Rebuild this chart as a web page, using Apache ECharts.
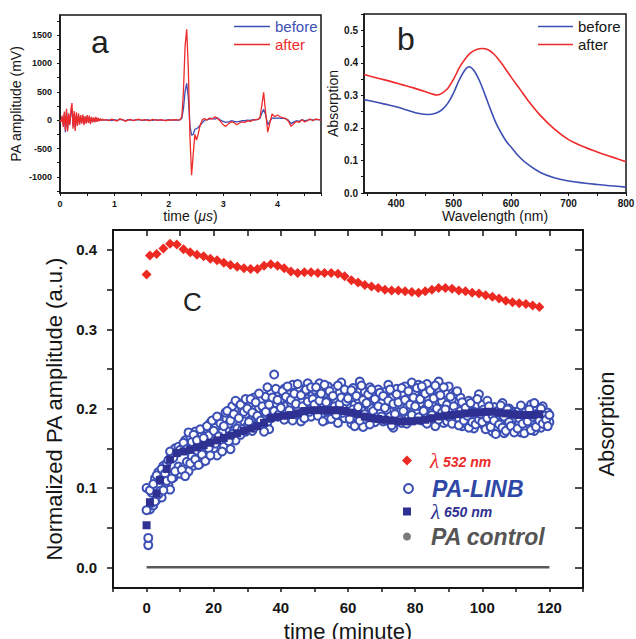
<!DOCTYPE html>
<html><head><meta charset="utf-8">
<script src="https://cdn.jsdelivr.net/npm/echarts/dist/echarts.min.js"></script>
<style>html,body{margin:0;padding:0;background:#fff}#wrap{position:relative;width:636px;height:639px}#top,#labels,#lines,#marks{position:absolute;left:0;top:0;width:636px;height:639px}</style>
</head><body><div id="wrap"><div id="top"></div><div id="labels"></div><div id="lines"></div><div id="marks"></div></div>
<script>
// ---------- Panel a: PA signal ----------
const tA = [0,0.02,0.04,0.06,0.08,0.1,0.12,0.14,0.16,0.18,0.2,0.22,0.24,0.26,0.28,0.3,0.32,0.34,0.36,0.38,0.4,0.42,0.44,0.46,0.48,0.5,0.52,0.54,0.56,0.58,0.6,0.62,0.64,0.66,0.68,0.7,0.72,0.74,0.76,0.78,0.8,
0.85,0.9,0.95,1,1.05,1.1,1.15,1.2,1.25,1.3,1.35,1.4,1.45,1.5,1.55,1.6,1.65,1.7,1.75,1.8,1.85,1.9,1.95,2,2.05,2.1,2.15,2.2,
2.24,2.27,2.3,2.33,2.36,2.39,2.42,2.45,2.48,2.51,2.54,2.58,2.62,2.66,2.7,
2.75,2.8,2.85,2.9,2.95,3,3.05,3.1,3.15,3.2,3.25,3.3,3.35,3.4,3.45,3.5,3.55,3.6,3.65,
3.68,3.71,3.745,3.78,3.82,3.86,3.9,3.95,4,4.05,4.1,4.15,4.2,4.25,4.3,4.35,4.4,4.45,4.5,4.55,4.6,4.65,4.7,4.75,4.8];
const beforeA = [0,-20,50,-90,110,-210,150,-140,90,-60,120,200,-110,110,-130,100,-70,80,-60,60,-40,70,-60,50,-40,60,-30,60,-50,40,-30,30,-30,40,-20,30,-10,20,-5,10,0,
0,5,-10,10,-5,15,5,-10,10,0,-5,10,5,0,-5,10,0,-5,10,0,5,-5,0,10,0,5,0,5,
30,200,500,650,400,-100,-265,-250,-160,-150,-130,-90,-40,0,10,
20,30,20,40,0,-20,-40,-30,-10,-20,-30,-20,-10,-10,0,-5,10,5,15,
40,120,190,100,-80,-20,40,30,40,30,35,25,0,-60,-30,-10,-20,10,-10,0,15,0,15,10,5];
const afterA = [0,-30,80,-120,150,-180,200,-200,120,-90,180,300,-150,160,-190,140,-100,120,-80,90,-60,100,-90,70,-60,90,-50,80,-70,60,-40,50,-40,60,-30,40,-20,30,-10,20,0,
10,-10,20,0,-15,25,10,-20,0,15,-10,5,20,-5,10,0,-10,15,5,-5,10,0,-10,5,0,10,5,0,
60,500,1300,1600,900,-300,-970,-600,-250,-350,-250,-80,10,30,0,
40,20,60,30,-20,-80,-110,-60,-30,-40,-80,-50,-30,-40,-10,-20,0,10,20,
60,250,490,150,-210,-50,110,60,90,60,40,30,-20,-110,-60,-20,-40,10,-30,-10,20,-10,20,10,0];
const aYLabels = [-1000,-500,0,500,1000,1500];
const aYTicks = [-1250,-1000,-750,-500,-250,0,250,500,750,1000,1250,1500,1750];

// ---------- Panel b: absorption spectra ----------
const wlBefore = [344,360,380,400,420,440,455,470,480,490,500,510,520,527,535,545,555,565,575,590,600,615,630,650,675,700,750,800];
const absBefore = [.287,.281,.273,.265,.254,.244,.241,.246,.256,.276,.308,.348,.379,.388,.377,.345,.300,.253,.210,.163,.141,.110,.087,.064,.047,.037,.026,.018];
const wlAfter = [344,370,390,410,430,450,465,472,480,490,500,510,520,530,540,550,560,570,580,590,600,615,630,650,675,700,725,750,775,800];
const absAfter = [.364,.352,.343,.333,.323,.312,.303,.301,.307,.322,.350,.385,.412,.431,.441,.444,.440,.427,.406,.382,.356,.320,.283,.240,.197,.164,.143,.126,.111,.096];
const bXLabels = [400,500,600,700,800];
const bXTicks = [350,400,450,500,550,600,650,700,750,800];

// ---------- Panel c: normalized PA amplitude vs time ----------
const lambda532 = [[0,.369],[1,.393],[3,.395],[5,.402],[7,.408],[9,.407],[11,.401],[13,.397],[15,.394],[17,.392],[19,.389],[21,.387],[23,.384],[25,.381],[27,.379],[29,.377],[31,.376],[33,.376],[35,.380],[37,.382],[39,.380],[41,.377],[43,.373],[45,.371],[47,.372],[49,.372],[51,.371],[53,.371],[55,.371],[57,.370],[59,.367],[61,.362],[63,.359],[65,.356],[67,.354],[69,.352],[71,.350],[73,.349],[75,.349],[77,.348],[79,.347],[81,.346],[83,.348],[85,.350],[87,.352],[89,.352],[91,.351],[93,.349],[95,.348],[97,.346],[99,.345],[101,.343],[103,.341],[105,.339],[107,.336],[109,.334],[111,.333],[113,.332],[115,.330],[117,.328]];
const lambda650 = [[0,.053],[1,.082],[3,.093],[4,.110],[6,.124],[7,.136],[9,.144],[11,.146],[13,.148],[15,.151],[17,.154],[19,.157],[21,.160],[23,.163],[25,.166],[27,.169],[29,.172],[31,.175],[33,.178],[35,.182],[37,.188],[39,.190],[41,.191],[43,.192],[45,.194],[47,.197],[49,.198],[51,.198],[53,.198],[55,.198],[57,.198],[59,.197],[61,.195],[63,.193],[65,.190],[67,.188],[69,.187],[71,.186],[73,.185],[75,.184],[77,.184],[79,.184],[81,.185],[83,.186],[85,.188],[87,.190],[89,.191],[91,.192],[93,.193],[95,.194],[97,.195],[99,.195],[101,.196],[103,.196],[105,.195],[107,.194],[109,.193],[111,.192],[113,.192],[115,.192],[117,.193]];
const tL = [0,0.5,1,1.5,2,2.5,3,3.5,4,4.5,5,5.5,6,6.5,7,7.5,8,8.5,9,9.5,
10,10.5,11,11.5,12,12.5,13,13.5,14,14.5,15,15.5,16,16.5,17,17.5,18,18.5,19,19.5,
20,20.5,21,21.5,22,22.5,23,23.5,24,24.5,25,25.5,26,26.5,27,27.5,28,28.5,29,29.5,
30,30.5,31,31.5,32,32.5,33,33.5,34,34.5,35,35.5,36,36.5,37,37.5,38,38.5,39,39.5,
40,40.5,41,41.5,42,42.5,43,43.5,44,44.5,45,45.5,46,46.5,47,47.5,48,48.5,49,49.5,
50,50.5,51,51.5,52,52.5,53,53.5,54,54.5,55,55.5,56,56.5,57,57.5,58,58.5,59,59.5,
60,60.5,61,61.5,62,62.5,63,63.5,64,64.5,65,65.5,66,66.5,67,67.5,68,68.5,69,69.5,
70,70.5,71,71.5,72,72.5,73,73.5,74,74.5,75,75.5,76,76.5,77,77.5,78,78.5,79,79.5,
80,80.5,81,81.5,82,82.5,83,83.5,84,84.5,85,85.5,86,86.5,87,87.5,88,88.5,89,89.5,
90,90.5,91,91.5,92,92.5,93,93.5,94,94.5,95,95.5,96,96.5,97,97.5,98,98.5,99,99.5,
100,100.5,101,101.5,102,102.5,103,103.5,104,104.5,105,105.5,106,106.5,107,107.5,108,108.5,109,109.5,
110,110.5,111,111.5,112,112.5,113,113.5,114,114.5,115,115.5,116,116.5,117,117.5,118,118.5,119,119.5,
120];
const linbA = [.100,.028,.073,.094,.078,.112,.085,.120,.096,.088,.128,.100,.131,.104,.098,.142,.113,.150,.118,.127,
.118,.152,.126,.160,.133,.121,.165,.140,.128,.171,.137,.162,.131,.168,.144,.175,.139,.166,.182,.147,
.150,.176,.141,.188,.158,.170,.152,.195,.163,.181,.149,.203,.172,.160,.208,.178,.167,.199,.184,.171,
.178,.205,.186,.172,.214,.192,.180,.201,.210,.188,.196,.215,.183,.174,.222,.199,.243,.207,.190,.218,
.212,.196,.225,.203,.188,.218,.207,.230,.192,.214,.199,.226,.184,.210,.221,.195,.232,.205,.190,.217,
.224,.198,.213,.232,.190,.207,.219,.186,.228,.203,.215,.194,.225,.209,.182,.220,.233,.201,.188,.212,
.196,.218,.181,.226,.205,.190,.212,.234,.198,.177,.221,.206,.189,.227,.200,.215,.183,.209,.224,.194,
.207,.184,.221,.198,.230,.190,.213,.176,.204,.225,.195,.212,.182,.219,.228,.201,.188,.216,.233,.199,
.221,.194,.230,.207,.185,.217,.199,.231,.212,.188,.224,.203,.178,.215,.234,.196,.209,.182,.220,.205,
.228,.196,.212,.184,.219,.201,.188,.214,.178,.206,.193,.180,.210,.187,.199,.175,.204,.190,.218,.182,
.205,.179,.193,.210,.184,.198,.171,.202,.188,.176,.195,.182,.207,.169,.191,.180,.200,.174,.186,.196,
.178,.196,.183,.170,.201,.187,.174,.193,.180,.205,.185,.172,.198,.182,.190,.176,.203,.188,.179,.195,
.183];
const linbB = [.072,.037,.097,.081,.105,.083,.116,.092,.110,.124,.097,.118,.109,.135,.146,.112,.138,.121,.145,.152,
.148,.123,.157,.115,.149,.170,.131,.158,.167,.136,.160,.129,.174,.142,.163,.134,.178,.150,.141,.185,
.172,.156,.190,.165,.181,.146,.178,.162,.197,.159,.185,.168,.193,.210,.175,.188,.205,.174,.196,.212,
.200,.183,.212,.195,.176,.208,.191,.219,.185,.203,.171,.196,.227,.205,.188,.214,.197,.225,.211,.193,
.201,.222,.186,.215,.228,.198,.211,.185,.219,.206,.231,.193,.217,.203,.188,.224,.209,.196,.227,.212,
.205,.227,.191,.210,.219,.184,.230,.208,.197,.222,.187,.216,.203,.192,.229,.206,.214,.195,.224,.209,
.213,.187,.223,.199,.178,.216,.202,.185,.229,.211,.193,.207,.218,.180,.224,.197,.212,.189,.203,.220,
.190,.216,.201,.185,.210,.224,.179,.206,.193,.218,.208,.186,.226,.197,.211,.181,.222,.205,.192,.214,
.203,.226,.189,.212,.228,.197,.219,.181,.206,.223,.192,.213,.229,.200,.186,.217,.195,.227,.199,.184,
.190,.215,.181,.203,.194,.222,.179,.197,.208,.185,.201,.191,.176,.207,.183,.196,.180,.212,.186,.193,
.183,.199,.174,.188,.203,.177,.192,.185,.168,.197,.180,.204,.176,.190,.172,.199,.183,.178,.194,.170,
.192,.175,.188,.204,.181,.169,.196,.184,.199,.173,.190,.207,.177,.194,.185,.200,.181,.191,.186,.178,
.192];
const controlT = [0,120];
const controlV = [0,0];
const cYLabels = [0,0.1,0.2,0.3,0.4];
const cYTicks = [0,0.05,0.1,0.15,0.2,0.25,0.3,0.35,0.4];

// ---------- build ----------
const zip = (xs, ys) => xs.slice(0, Math.min(xs.length, ys.length)).map((x, i) => [x, ys[i]]);
const FONT = 'Liberation Sans';
const INK = '#151515';
const RED = '#ee2b2b';
const BLUE = '#3d4fb3';
const LINE_ICON = 'path://M0,0H36V1.6H0Z';
const isMult = (v, s) => Math.abs(v / s - Math.round(v / s)) < 1e-6;
const GRIDX = {outerBoundsMode: 'none', containLabel: false, show: true, backgroundColor: 'transparent'};
const C_GRID = {left: 113, top: 230, width: 470, height: 358};
const C_X = {min: -10, max: 130};
const C_Y = {min: -0.0261, max: 0.4252};

// Chart 1: panels a and b
const chartAB = echarts.init(document.getElementById('top'), null, {renderer: 'svg'});
chartAB.setOption({
  animation: false,
  backgroundColor: '#fff',
  textStyle: {fontFamily: FONT},
  grid: [
    Object.assign({left: 60, top: 15, width: 261, height: 178, borderColor: INK, borderWidth: 1.5}, GRIDX),
    Object.assign({left: 364, top: 14, width: 262, height: 179, borderColor: INK, borderWidth: 1.5}, GRIDX)
  ],
  xAxis: [
    {gridIndex: 0, type: 'value', min: 0, max: 4.8, interval: 0.5,
     name: '{n|time (}{i|μs}{n|)}', nameLocation: 'middle', nameGap: 14,
     nameTextStyle: {rich: {n: {fontSize: 14, color: INK, fontFamily: FONT}, i: {fontSize: 14, color: INK, fontStyle: 'italic', fontFamily: FONT}}},
     axisLine: {onZero: false, lineStyle: {color: INK, width: 1.5}}, axisTick: {inside: false, length: 3, lineStyle: {color: INK}},
     axisLabel: {fontSize: 9, fontWeight: 'bold', color: INK, margin: 6, formatter: v => isMult(v, 1) && v < 4.7 ? String(v) : ''},
     splitLine: {show: false}},
    {gridIndex: 1, type: 'value', min: 344, max: 800,
     name: 'Wavelength (nm)', nameLocation: 'middle', nameGap: 14,
     nameTextStyle: {fontSize: 14, color: INK},
     axisLine: {onZero: false, lineStyle: {color: INK, width: 1.5}}, axisTick: {length: 3, customValues: bXTicks, lineStyle: {color: INK}},
     axisLabel: {fontSize: 10, fontWeight: 'bold', color: INK, margin: 5, customValues: bXLabels, formatter: v => String(v)},
     splitLine: {show: false}}
  ],
  yAxis: [
    {gridIndex: 0, type: 'value', min: -1283, max: 1853,
     name: 'PA amplitude (mV)', nameLocation: 'middle', nameGap: 37,
     nameTextStyle: {fontSize: 14, color: INK},
     axisLine: {show: true, onZero: false, lineStyle: {color: INK, width: 1.5}}, axisTick: {show: true, length: 3, customValues: aYTicks, lineStyle: {color: INK}},
     axisLabel: {fontSize: 9, fontWeight: 'bold', color: INK, margin: 8, customValues: aYLabels, formatter: v => String(v)},
     splitLine: {show: false}},
    {gridIndex: 1, type: 'value', min: 0, max: 0.55, interval: 0.05,
     name: 'Absorption', nameLocation: 'middle', nameGap: 24,
     nameTextStyle: {fontSize: 14, color: INK},
     axisLine: {show: true, onZero: false, lineStyle: {color: INK, width: 1.5}}, axisTick: {show: true, length: 3, lineStyle: {color: INK}},
     axisLabel: {fontSize: 10, fontWeight: 'bold', color: INK, margin: 6, formatter: v => (isMult(v, 0.1) && v < 0.52) ? v.toFixed(1) : ''},
     splitLine: {show: false}}
  ],
  legend: [
    {left: 234, top: 19, orient: 'vertical', padding: 0, itemGap: 3, itemWidth: 36, itemHeight: 14, selectedMode: false,
     data: [{name: 'before', icon: LINE_ICON, textStyle: {color: BLUE}}, {name: 'after', icon: LINE_ICON, textStyle: {color: RED}}],
     textStyle: {fontSize: 15, fontFamily: FONT}},
    {left: 538, top: 19, orient: 'vertical', padding: 0, itemGap: 3, itemWidth: 35, itemHeight: 14, selectedMode: false,
     data: [{name: 'before ', icon: LINE_ICON, textStyle: {color: INK}}, {name: 'after ', icon: LINE_ICON, textStyle: {color: INK}}],
     textStyle: {fontSize: 15, fontFamily: FONT}}
  ],
  graphic: [
    {type: 'text', left: 91, top: 26, style: {text: 'a', fontSize: 32, fontFamily: FONT, fill: '#222'}},
    {type: 'text', left: 397, top: 23, style: {text: 'b', fontSize: 32, fontFamily: FONT, fill: '#222'}}
  ],
  series: [
    {name: 'before', type: 'line', xAxisIndex: 0, yAxisIndex: 0, data: zip(tA, beforeA), symbol: 'none', color: BLUE, lineStyle: {width: 1.3}},
    {name: 'after', type: 'line', xAxisIndex: 0, yAxisIndex: 0, data: zip(tA, afterA), symbol: 'none', color: RED, lineStyle: {width: 1.3}},
    {name: 'before ', type: 'line', xAxisIndex: 1, yAxisIndex: 1, data: zip(wlBefore, absBefore), symbol: 'none', smooth: 0.35, color: BLUE, lineStyle: {width: 1.6}},
    {name: 'after ', type: 'line', xAxisIndex: 1, yAxisIndex: 1, data: zip(wlAfter, absAfter), symbol: 'none', smooth: 0.35, color: RED, lineStyle: {width: 1.6}}
  ]
});

// Chart 2: panel c tick labels, axis titles, panel letter (axis lines hidden here)
const chartLabels = echarts.init(document.getElementById('labels'), null, {renderer: 'svg'});
chartLabels.setOption({
  animation: false,
  backgroundColor: 'transparent',
  textStyle: {fontFamily: FONT},
  grid: [Object.assign({}, C_GRID, {outerBoundsMode: 'none', containLabel: false, show: false})],
  xAxis: [Object.assign({gridIndex: 0, type: 'value', interval: 10,
     name: 'time (minute)', nameLocation: 'middle', nameGap: 32,
     nameTextStyle: {fontSize: 22, color: INK},
     axisLine: {show: false, onZero: false}, axisTick: {show: false},
     axisLabel: {fontSize: 15, fontWeight: 'bold', color: INK, margin: 12, formatter: v => (v >= 0 && v <= 120 && isMult(v, 20)) ? String(v) : ''},
     splitLine: {show: false}}, C_X)],
  yAxis: [Object.assign({gridIndex: 0, type: 'value',
     name: 'Normalized PA amplitude (a.u.)', nameLocation: 'middle', nameGap: 47,
     nameTextStyle: {fontSize: 22, color: INK},
     axisLine: {show: false, onZero: false}, axisTick: {show: false},
     axisLabel: {fontSize: 15, fontWeight: 'bold', color: INK, margin: 16, customValues: cYLabels, formatter: v => Number(v).toFixed(1)},
     splitLine: {show: false}}, C_Y)],
  graphic: [
    {type: 'text', left: 183, top: 289, style: {text: 'C', fontSize: 26, fontFamily: FONT, fill: '#222'}},
    {type: 'text', x: 606, y: 424, rotation: Math.PI / 2, style: {text: 'Absorption', fontSize: 22, fontFamily: FONT, fill: INK, align: 'center', verticalAlign: 'middle'}}
  ],
  series: []
});

// Chart 3: panel c frame, axis lines and ticks only (no labels, no names)
const chartLines = echarts.init(document.getElementById('lines'), null, {renderer: 'svg'});
chartLines.setOption({
  animation: false,
  grid: [Object.assign({borderColor: INK, borderWidth: 2, show: true, outerBoundsMode: 'none', containLabel: false}, C_GRID)],
  xAxis: [
    Object.assign({gridIndex: 0, type: 'value', interval: 10,
     axisLine: {onZero: false, lineStyle: {color: INK, width: 2}}, axisTick: {length: 4, lineStyle: {color: INK, width: 1.5}},
     axisLabel: {show: false}, splitLine: {show: false}}, C_X),
    Object.assign({gridIndex: 0, type: 'value', position: 'top', interval: 10,
     axisLine: {onZero: false, lineStyle: {color: INK, width: 2}}, axisTick: {inside: true, length: 6, lineStyle: {color: INK, width: 1.5}},
     axisLabel: {show: false}, splitLine: {show: false}}, C_X)
  ],
  yAxis: [
    Object.assign({gridIndex: 0, type: 'value',
     axisLine: {show: true, onZero: false, lineStyle: {color: INK, width: 2}}, axisTick: {show: true, length: 6, customValues: cYTicks, lineStyle: {color: INK, width: 1.5}},
     axisLabel: {show: false}, splitLine: {show: false}}, C_Y),
    Object.assign({gridIndex: 0, type: 'value', position: 'right',
     axisLine: {show: true, onZero: false, lineStyle: {color: INK, width: 2}}, axisTick: {show: true, inside: true, length: 8, customValues: cYTicks, lineStyle: {color: INK, width: 1.5}},
     axisLabel: {show: false}, splitLine: {show: false}}, C_Y)
  ],
  series: [
    {name: 'PA control', type: 'line', data: zip(controlT, controlV), symbol: 'none', color: '#5a5a5a', lineStyle: {width: 2.5}}
  ]
});

// Chart 4: panel c data marks and legend (same grid and scales, axes hidden)
const chartMarks = echarts.init(document.getElementById('marks'), null, {renderer: 'svg'});
chartMarks.setOption({
  animation: false,
  backgroundColor: 'transparent',
  textStyle: {fontFamily: FONT},
  grid: [Object.assign({}, C_GRID, {outerBoundsMode: 'none', containLabel: false, show: false})],
  xAxis: [Object.assign({gridIndex: 0, type: 'value', show: false, splitLine: {show: false}}, C_X)],
  yAxis: [Object.assign({gridIndex: 0, type: 'value', show: false, splitLine: {show: false}}, C_Y)],
  legend: [
    {left: 402, top: 450, padding: 0, itemWidth: 10, itemHeight: 10, selectedMode: false,
     data: [{name: 'λ532', icon: 'diamond'}],
     formatter: () => '{sp|}{l|λ}{s| 532 nm}',
     textStyle: {rich: {sp: {width: 13}, l: {fontSize: 21, fontStyle: 'italic', fontFamily: 'Liberation Serif', color: RED, lineHeight: 16},
       s: {fontSize: 14, fontStyle: 'italic', fontWeight: 'bold', color: RED, verticalAlign: 'bottom', lineHeight: 12}}}},
    {left: 403, top: 477, padding: 0, itemWidth: 9, itemHeight: 9, selectedMode: false,
     data: [{name: 'PA-LINB', icon: 'emptyCircle'}],
     formatter: () => '{sp|}{t|PA-LINB}',
     textStyle: {rich: {sp: {width: 14}, t: {fontSize: 23, fontStyle: 'italic', fontWeight: 'bold', color: '#2f48a6', lineHeight: 16}}}},
    {left: 403, top: 501, padding: 0, itemWidth: 8, itemHeight: 8, selectedMode: false,
     data: [{name: 'λ650', icon: 'rect'}],
     formatter: () => '{sp|}{l|λ}{s| 650 nm}',
     textStyle: {rich: {sp: {width: 15}, l: {fontSize: 21, fontStyle: 'italic', fontFamily: 'Liberation Serif', color: '#2e3192', lineHeight: 14},
       s: {fontSize: 14, fontStyle: 'italic', fontWeight: 'bold', color: '#2e3192', verticalAlign: 'bottom', lineHeight: 12}}}},
    {left: 403, top: 525, padding: 0, itemWidth: 8, itemHeight: 8, selectedMode: false,
     data: [{name: 'PA control ', icon: 'circle', itemStyle: {color: '#5a5a5a'}}],
     formatter: () => '{sp|}{t|PA control}',
     textStyle: {rich: {sp: {width: 15}, t: {fontSize: 23, fontStyle: 'italic', fontWeight: 'bold', color: '#555', lineHeight: 16}}}}
  ],
  series: [
    {name: 'PA-LINB', type: 'scatter', data: zip(tL, linbA).concat(zip(tL, linbB)), symbol: 'emptyCircle', symbolSize: 8, color: '#3c4fb5', itemStyle: {borderWidth: 1, opacity: 1}},
    {name: 'λ650', type: 'scatter', data: lambda650, symbol: 'rect', symbolSize: 8, color: '#2e3192', itemStyle: {opacity: 1}},
    {name: 'λ532', type: 'scatter', data: lambda532, symbol: 'diamond', symbolSize: [10, 10], color: '#ec2a22', itemStyle: {opacity: 1}},
    {name: 'PA control ', type: 'scatter', data: [], symbol: 'circle', color: '#5a5a5a'}
  ]
});
</script></body></html>
